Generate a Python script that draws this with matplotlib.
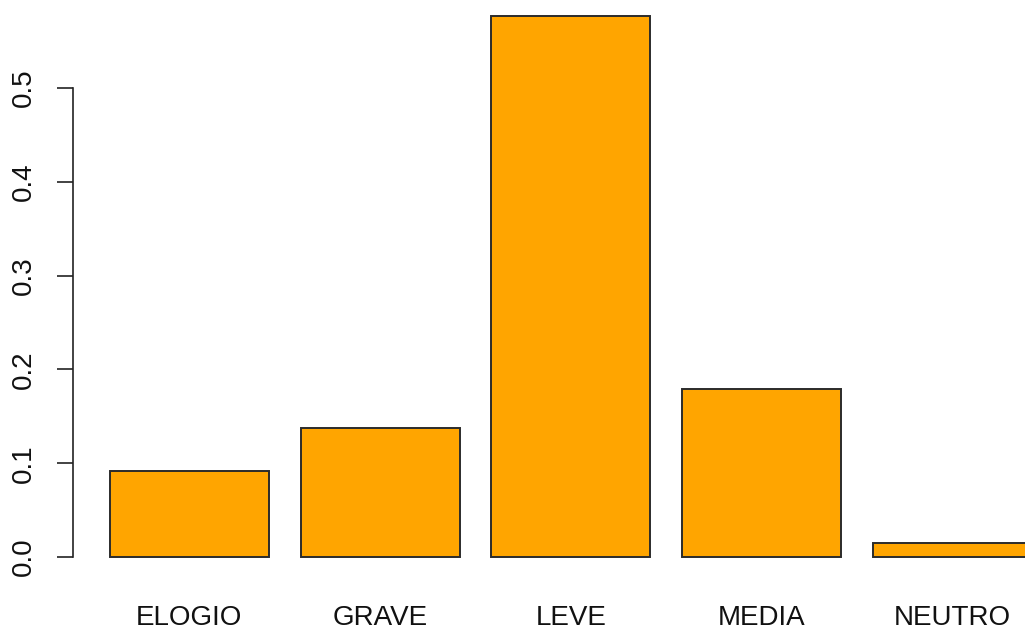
import matplotlib
matplotlib.use("Agg")
import matplotlib.pyplot as plt

categories = ["ELOGIO", "GRAVE", "LEVE", "MEDIA", "NEUTRO"]
values = [0.0917, 0.138, 0.5768, 0.179, 0.0149]
yticks = [0.0, 0.1, 0.2, 0.3, 0.4, 0.5]
ytick_labels = ["0.0", "0.1", "0.2", "0.3", "0.4", "0.5"]

W, H = 1025, 630
fig = plt.figure(figsize=(W / 100, H / 100), dpi=100)
plt.rcParams['font.family'] = ['Liberation Sans', 'DejaVu Sans']

# axes geometry in pixels
px_per_x = 159.0
px_per_y = 938.0
left_px = 73.0
zero_px = 557.0
x0 = -0.032
bottom_px = zero_px + 0.023 * px_per_y
ax = fig.add_axes([left_px / W, (H - bottom_px) / H, (W - left_px) / W, bottom_px / H])
ax.set_xlim(x0, x0 + (W - left_px) / px_per_x)
ax.set_ylim(-0.023, zero_px / px_per_y)

positions = [0.2 + i * 1.2 + 0.5 for i in range(len(categories))]
ax.bar(positions, values, width=1.0, color="#FFA500", edgecolor="#2b2b2b", linewidth=1.4)

for s in ["top", "right", "bottom"]:
    ax.spines[s].set_visible(False)
ax.spines["left"].set_bounds(0.0, 0.5)
ax.spines["left"].set_linewidth(1.2)
ax.spines["left"].set_color("#222222")

ax.set_yticks(yticks)
ax.set_yticklabels(ytick_labels, rotation=90, va="center", fontsize=20, color="#111111")
ax.tick_params(axis="y", length=11.5, width=1.2, pad=14.5, color="#222222")

ax.set_xticks(positions)
ax.set_xticklabels(categories, fontsize=20, color="#111111")
ax.tick_params(axis="x", length=0, pad=19)

fig.savefig("out.png", dpi=100)
